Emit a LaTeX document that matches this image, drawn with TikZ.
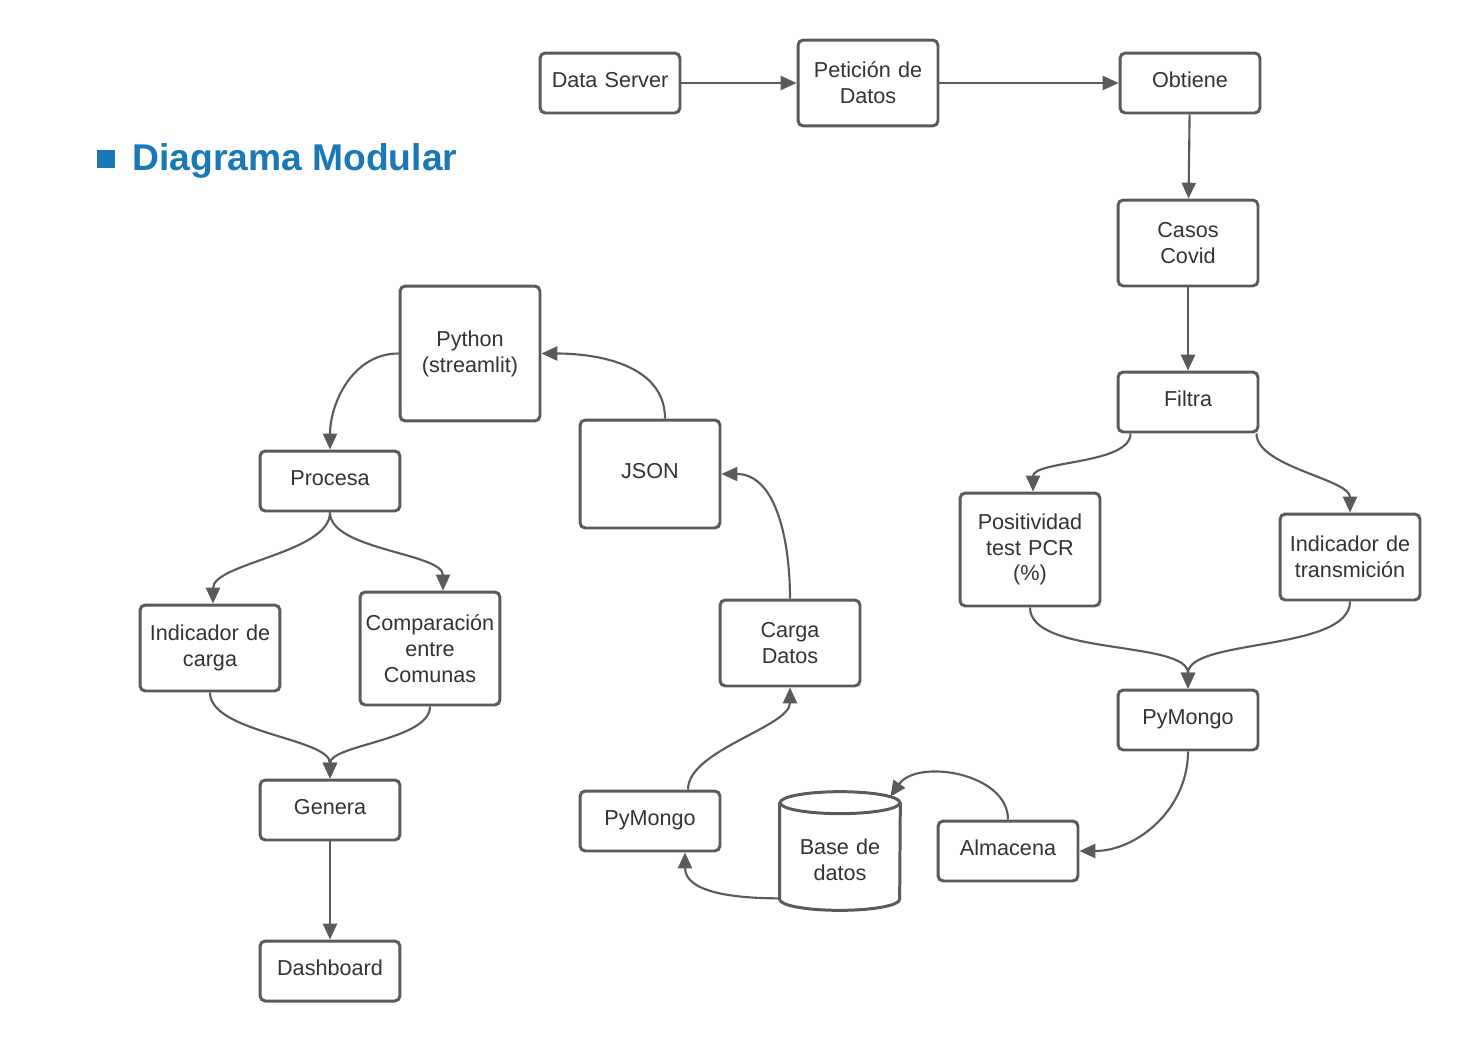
\documentclass[tikz,border=0pt]{standalone}
\usepackage{fontspec}
\setmainfont{Liberation Sans}
\usetikzlibrary{arrows.meta,calc}
\definecolor{linegray}{HTML}{5A5A5A}
\definecolor{textgray}{HTML}{333333}
\definecolor{titleblue}{HTML}{1A78B6}
\tikzset{
  box/.style={draw=linegray, line width=1.7pt, rounded corners=3pt, fill=white,
    text=textgray, minimum width=2.8cm, minimum height=1.2cm, text width=2.7cm,
    align=center, inner sep=1pt, font=\fontsize{12.3}{14.7}\selectfont},
  sbox/.style={box, text depth=3.4pt},
  dbtext/.style={text=textgray, text width=2.3cm, align=center, inner sep=1pt,
    font=\fontsize{12.3}{14.7}\selectfont},
  link/.style={draw=linegray, line width=1.2pt, -{Triangle[length=9pt,width=8pt]}},
  sline/.style={link, looseness=0.7},
}
\begin{document}
\begin{tikzpicture}[x=0.02cm, y=-0.02cm]
  \useasboundingbox (0,0) rectangle (1460,1041);
  % title
  \node[fill=titleblue, minimum size=0.36cm, inner sep=0pt] (sq) at (106,159) {};
  \node[anchor=west, text=titleblue, inner sep=0pt, font=\fontsize{21.2}{25}\bfseries] (title) at (132,161) {Diagrama Modular};
  % top row
  \node[sbox] (ds) at (610,83) {Data Server};
  \node[box, minimum height=1.72cm] (pet) at (868,83) {Petición de\\Datos};
  \node[sbox] (obt) at (1190,83) {Obtiene};
  % right column
  \node[box, minimum height=1.72cm] (casos) at (1188,243) {Casos\\Covid};
  \node[sbox] (filtra) at (1188,402) {Filtra};
  \node[box, minimum height=2.26cm] (pos) at (1030,549.5) {Positividad\\test PCR\\(\%)};
  \node[box, minimum height=1.72cm] (ind) at (1350,557) {Indicador de\\transmición};
  \node[sbox] (pym1) at (1188,720) {PyMongo};
  \node[sbox] (alm) at (1008,851) {Almacena};
  % database
  \node[minimum width=2.4cm, minimum height=2.36cm, inner sep=0pt] (db) at (840,851) {};
  \begin{scope}[draw=linegray, line width=1.7pt]
    \draw ($(db.north west)+(0,11)$) -- ($(db.south west)+(0,-11)$)
      arc[start angle=180, end angle=360, x radius=1.2cm, y radius=0.22cm]
      -- ($(db.north east)+(0,11)$);
    \draw ($(db.north)+(0,11)$) ellipse [x radius=1.2cm, y radius=0.22cm];
  \end{scope}
  \node[dbtext] (dblabel) at ($(db.center)+(0,9)$) {Base de\\datos};
  % middle column
  \node[sbox] (pym2) at (650,821) {PyMongo};
  \node[box, minimum height=1.72cm] (carga) at (790,643) {Carga\\Datos};
  \node[sbox, minimum height=2.16cm] (json) at (650,474) {JSON};
  \node[box, minimum height=2.7cm] (py) at (470,353.5) {Python\\(streamlit)};
  % left column
  \node[sbox] (proc) at (330,481) {Procesa};
  \node[box, minimum height=1.72cm] (indc) at (210,648) {Indicador de\\carga};
  \node[box, minimum height=2.26cm] (comp) at (430,648.5) {Comparación\\entre\\Comunas};
  \node[sbox] (gen) at (330,810) {Genera};
  \node[sbox] (dash) at (330,971) {Dashboard};

  \draw[link] (ds) -- (pet);
  \draw[link] (pet) -- (obt);
  \draw[link] (obt) -- (casos);
  \draw[link] (casos) -- (filtra);
  \draw[sline] ($(filtra.south west)+(14,0)$) to[out=-90, in=90] ($(pos.north)+(3,0)$);
  \draw[sline] ($(filtra.south east)+(-3,0)$) to[out=-90, in=90] (ind.north);
  \draw[sline] (pos.south) to[out=-90, in=90] (pym1.north);
  \draw[sline] (ind.south) to[out=-90, in=90] (pym1.north);
  \draw[link] (pym1.south) to[out=-90, in=0] (alm.east);
  \draw[link] (alm.north) to[out=90, in=55] ($(db.north east)+(-10,5)$);
  \draw[link] ($(db.south west)+(0,-12)$) to[out=180, in=-90] ($(pym2.south)+(35,0)$);
  \draw[sline] ($(pym2.north)+(38,0)$) to[out=90, in=-90] (carga.south);
  \draw[link] (carga.north) to[out=90, in=0] (json.east);
  \draw[link] ($(json.north)+(15,0)$) to[out=90, in=0] (py.east);
  \draw[link] (py.west) to[out=180, in=90] (proc.north);
  \draw[sline] (proc.south) to[out=-90, in=90] ($(indc.north)+(3,0)$);
  \draw[sline] (proc.south) to[out=-90, in=90] ($(comp.north)+(13,0)$);
  \draw[sline] (indc.south) to[out=-90, in=90] (gen.north);
  \draw[sline] (comp.south) to[out=-90, in=90] (gen.north);
  \draw[link] (gen) -- (dash);
\end{tikzpicture}
\end{document}
